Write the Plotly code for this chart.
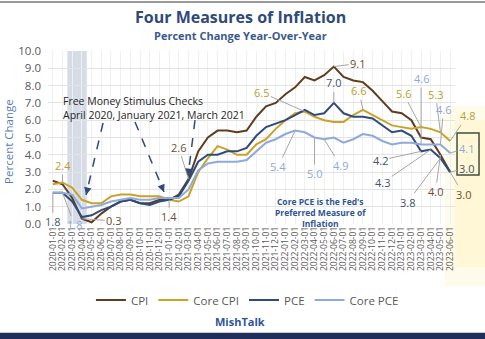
import plotly.graph_objects as go

# Monthly year-over-year percent changes, Jan 2020 - Jun 2023
months = [f"{y}-{m:02d}-01" for y in (2020, 2021, 2022, 2023) for m in range(1, 13)][:42]

cpi = [2.5, 2.3, 1.5, 0.3, 0.1, 0.6, 1.0, 1.3, 1.4, 1.2, 1.2, 1.4,
       1.4, 1.7, 2.6, 4.2, 5.0, 5.4, 5.4, 5.3, 5.4, 6.2, 6.8, 7.0,
       7.5, 7.9, 8.5, 8.3, 8.6, 9.1, 8.5, 8.3, 8.2, 7.7, 7.1, 6.5,
       6.4, 6.0, 5.0, 4.9, 4.0, 3.0]
core_cpi = [2.3, 2.4, 2.1, 1.4, 1.2, 1.2, 1.6, 1.7, 1.7, 1.6, 1.6, 1.6,
            1.4, 1.3, 1.6, 3.0, 3.8, 4.5, 4.3, 4.0, 4.0, 4.6, 4.9, 5.5,
            6.0, 6.4, 6.5, 6.2, 6.0, 5.9, 5.9, 6.3, 6.6, 6.3, 6.0, 5.7,
            5.6, 5.5, 5.6, 5.5, 5.3, 4.8]
pce = [1.8, 1.8, 1.3, 0.4, 0.5, 0.8, 1.0, 1.3, 1.4, 1.2, 1.1, 1.3,
       1.4, 1.6, 2.5, 3.6, 4.0, 4.0, 4.2, 4.2, 4.4, 5.1, 5.6, 5.8,
       6.0, 6.3, 6.6, 6.3, 6.4, 7.0, 6.4, 6.2, 6.2, 6.1, 5.7, 5.3,
       5.4, 5.1, 4.2, 4.3, 3.8, 3.0]
core_pce = [1.8, 1.8, 1.7, 0.9, 1.0, 1.1, 1.3, 1.4, 1.5, 1.4, 1.4, 1.5,
            1.5, 1.5, 2.0, 3.1, 3.5, 3.6, 3.6, 3.6, 3.7, 4.2, 4.7, 4.9,
            5.2, 5.4, 5.3, 5.0, 4.9, 5.0, 4.7, 4.9, 5.2, 5.1, 4.8, 4.6,
            4.7, 4.7, 4.6, 4.6, 4.6, 4.1]

y_ticks = [0, 1, 2, 3, 4, 5, 6, 7, 8, 9, 10]

series = {
    "CPI": (cpi, "#5E3D20", "#6B4E31"),
    "Core CPI": (core_cpi, "#C9A227", "#BE9E2C"),
    "PCE": (pce, "#2F4B7C", "#44546A"),
    "Core PCE": (core_pce, "#8EAADB", "#8EA9DB"),
}

# Callouts: (series, month, pixel offset of the label from the point)
callouts = [
    ("CPI", "2020-04-01", 32, 2), ("CPI", "2021-01-01", 0, 17),
    ("CPI", "2021-03-01", -10, -32), ("CPI", "2022-06-01", 24, -3),
    ("CPI", "2023-05-01", -5, 37), ("CPI", "2023-06-01", 13, 22),
    ("Core CPI", "2020-02-01", 0, -17), ("Core CPI", "2022-03-01", -43, -19),
    ("Core CPI", "2022-09-01", -4, -19), ("Core CPI", "2023-03-01", -18, -34),
    ("Core CPI", "2023-05-01", -5, -38), ("Core CPI", "2023-06-01", 17, -25),
    ("PCE", "2020-01-01", 0, 29), ("PCE", "2022-06-01", 0, -20),
    ("PCE", "2023-03-01", -41, 9), ("PCE", "2023-04-01", -48, 33),
    ("PCE", "2023-05-01", -33, 44), ("PCE", "2023-06-01", 16, -4),
    ("Core PCE", "2020-02-01", 12, 32), ("Core PCE", "2022-02-01", -17, 36),
    ("Core PCE", "2022-04-01", 0, 36), ("Core PCE", "2022-05-01", 16, 26),
    ("Core PCE", "2023-03-01", 0, -66), ("Core PCE", "2023-05-01", 3, -35),
    ("Core PCE", "2023-06-01", 16, -5),
]

FONT = "Open Sans"
fig = go.Figure()

for name, (vals, color, _) in series.items():
    fig.add_trace(go.Scatter(x=months, y=vals, name=name, mode="lines",
                             line=dict(color=color, width=2)))

# Recession shading (Feb-Apr 2020)
fig.add_shape(type="rect", xref="x", yref="y", x0=1.5, x1=3.5, y0=-0.1, y1=10,
              fillcolor="#D5DCE6", line_width=0, layer="below")

# Soft highlight behind the latest readings
fig.add_shape(type="rect", xref="paper", yref="paper", x0=0.975, x1=1.08,
              y0=-0.36, y1=0.68, fillcolor="rgba(255,240,170,0.25)",
              line_width=0, layer="below")
fig.add_shape(type="rect", xref="paper", yref="paper", x0=1.0, x1=1.08,
              y0=-0.25, y1=0.60, fillcolor="rgba(255,240,170,0.30)",
              line_width=0, layer="below")

# Box around the latest PCE / Core PCE readings
fig.add_shape(type="rect", xref="paper", yref="paper", x0=1.005, x1=1.059,
              y0=0.283, y1=0.526, line=dict(color="#3F4F3F", width=1.5))

annotations = []
for name, month, ax, ay in callouts:
    vals, _, tcolor = series[name]
    v = vals[months.index(month)]
    annotations.append(dict(
        x=month, y=v, xref="x", yref="y", text=f"{v:.1f}", showarrow=True,
        arrowhead=0, arrowwidth=1, arrowcolor="#A6A6A6", ax=ax, ay=ay,
        standoff=0, font=dict(family=FONT, size=11, color=tcolor)))

# Stimulus-check pointers (dashed stems with arrowheads)
pointers = [((5.18, 5.84), (3.43, 1.68)),
            ((8.48, 5.90), (11.47, 1.85)),
            ((14.67, 6.00), (13.95, 2.77))]
for (x0, y0), (x1, y1) in pointers:
    fig.add_shape(type="line", xref="x", yref="y", x0=x0, y0=y0, x1=x1, y1=y1,
                  line=dict(color="#2F4B7C", width=1.5, dash="dash"))
    dx, dy = x1 - x0, y1 - y0
    annotations.append(dict(
        x=x1, y=y1, xref="x", yref="y", axref="x", ayref="y",
        ax=x1 - dx * 0.08, ay=y1 - dy * 0.08, text="", showarrow=True,
        arrowhead=2, arrowsize=1, arrowwidth=1.5, arrowcolor="#2F4B7C"))

def note(x, y, text, size, color, **kw):
    d = dict(x=x, y=y, xref="paper", yref="paper", showarrow=False,
             xanchor="center", yanchor="middle", text=text,
             font=dict(family=FONT, size=size, color=color))
    d.update(kw)
    return d

annotations += [
    note(0.472, 1.197, "<b>Four Measures of Inflation</b>", 16, "#2F4A7A"),
    note(0.472, 1.087, "<b>Percent Change Year-Over-Year</b>", 11, "#3B5A8C"),
    note(0.033, 0.67,
         "Free Money Stimulus Checks<br>April 2020, January 2021, March 2021",
         10.5, "#262626", xanchor="left", align="left"),
    note(0.67, 0.064,
         "<b>Core PCE is the Fed's<br>Preferred Measure of<br>Inflation</b>",
         8.5, "#2F5597"),
    note(-0.096, 0.48, "Percent Change", 11.5, "#5B7DB1", textangle=-90),
    note(0.472, -0.561, "<b>MishTalk</b>", 11, "#2F5597"),
]

# Frame: thin top rule and heavy bottom band
fig.add_shape(type="line", xref="paper", yref="paper", x0=-0.12, x1=1.08,
              y0=1.283, y1=1.283, line=dict(color="#9A9A9A", width=2))
fig.add_shape(type="rect", xref="paper", yref="paper", x0=-0.12, x1=1.08,
              y0=-0.67, y1=-0.628, fillcolor="#1F2E5A", line_width=0)

fig.update_layout(
    width=485, height=339,
    margin=dict(l=48, r=30, t=51, b=115),
    paper_bgcolor="white", plot_bgcolor="white",
    font=dict(family=FONT, color="#595959"),
    showlegend=True,
    legend=dict(orientation="h", x=0.49, xanchor="center", y=-0.44,
                yanchor="middle", font=dict(size=11.5, color="#595959"),
                itemwidth=30, tracegroupgap=0, bgcolor="rgba(0,0,0,0)"),
    annotations=annotations,
)
fig.update_xaxes(type="category", range=[-0.5, 41.5], tickangle=-90,
                 tickmode="linear", tick0=0, dtick=1,
                 tickfont=dict(size=8.5, color="#595959"),
                 showgrid=True, gridcolor="#F0F0F0", showline=False,
                 ticks="", zeroline=False)
fig.update_yaxes(range=[0, 10], tickvals=y_ticks, tickformat=".1f",
                 tickfont=dict(size=11.5, color="#595959"),
                 showgrid=True, gridcolor="#E3E3E3", zeroline=False,
                 ticklabelstandoff=6)

fig.write_html("out.html")
